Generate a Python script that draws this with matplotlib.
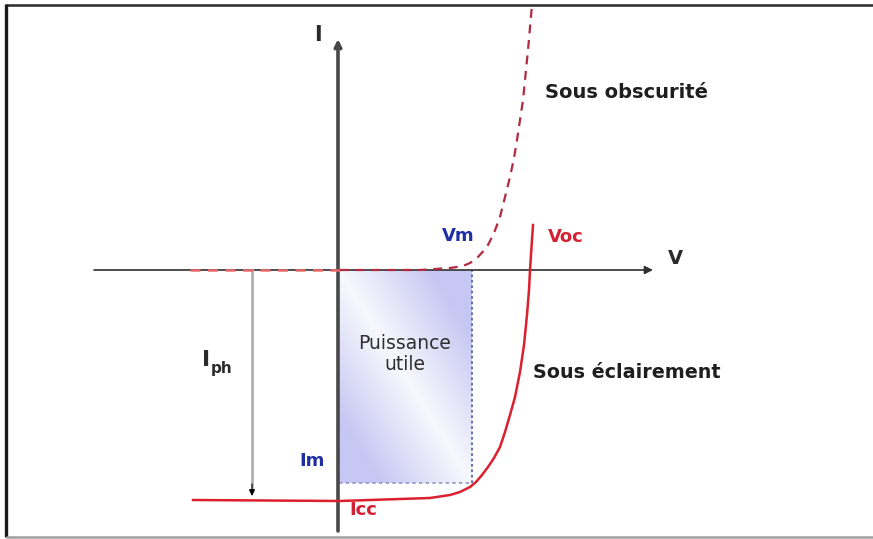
import numpy as np
import matplotlib.pyplot as plt
from matplotlib.colors import to_rgb

plt.rcParams['font.family'] = ['DejaVu Sans']

# caracteristique I(V) d'une cellule PV (unites arbitraires, origine au croisement des axes)
# courbe sous obscurite (pointilles)
v_obsc = [-149, 1, 81, 111, 124, 131, 139, 148, 155, 161, 166, 171, 175, 178, 184, 189, 193]
i_obsc = [0, 0, 0, 2, 4, 7, 13, 23, 37, 53, 73, 93, 112, 130, 170, 220, 265]

# courbe sous eclairement
v_ecl = [-146, 1, 61, 91, 111, 121, 131, 137, 143, 149, 155, 161, 166, 171, 176, 181,
         185, 188, 190, 191, 194]
i_ecl = [-230, -231, -229, -228, -225, -222, -217, -212, -205, -197, -188, -177, -162,
         -145, -127, -102, -75, -45, -20, 0, 45]

# point de puissance maximale
Vm = 133
Im = -213

fig = plt.figure(figsize=(8.73, 5.39), dpi=100)
ax = fig.add_axes([0, 0, 1, 1])
ax.set_xlim(-339, 534)
ax.set_ylim(-269, 270)
ax.axis('off')

# cadre
ax.plot([-333, 534], [265, 265], color='#2a2a2a', lw=1.8, solid_capstyle='butt')
ax.plot([-333, -333], [266, -267], color='#1a1a1a', lw=2.4, solid_capstyle='butt')
ax.plot([-333, 534], [-267, -267], color='#a0a0a0', lw=1.8, solid_capstyle='butt')

# rectangle "puissance utile" avec degrade
ny, nx = 100, 100
u, w = np.meshgrid(np.linspace(0, 1, nx), np.linspace(0, 1, ny))
d = np.clip(np.abs(u - w) * 1.25 + 0.12, 0, 1)
lav = np.array(to_rgb('#c6c7f3'))
img = np.ones((ny, nx, 3)) * (1 - d[..., None]) + lav * d[..., None]
ax.imshow(img, extent=(0, Vm, Im, 0), origin='upper', aspect='auto',
          interpolation='bilinear', zorder=1)
ax.plot([Vm, Vm], [Im, 0], color='#5565a8', lw=1.3, ls=(0, (1.5, 1.5)), zorder=2)
ax.plot([0, Vm], [Im, Im], color='#8c98c4', lw=1.2, ls=(0, (2, 2)), zorder=2)

# axes I et V
ax.annotate('', xy=(-1, 231), xytext=(-1, -261),
            arrowprops=dict(arrowstyle='-|>', color='#484848', lw=2.6,
                            mutation_scale=10, shrinkA=0, shrinkB=0), zorder=3)
ax.annotate('', xy=(314, 0), xytext=(-245, 0),
            arrowprops=dict(arrowstyle='-|>', color='#303030', lw=1.2,
                            mutation_scale=12, shrinkA=0, shrinkB=0), zorder=3)

# courbes
v_o = np.array(v_obsc)
i_o = np.array(i_obsc)
ax.plot(v_o[:2], i_o[:2], color='#ec6a6a', lw=1.8, ls=(0, (4, 3)), zorder=4)
ax.plot(v_o[1:], i_o[1:], color='#b02a40', lw=1.6, ls=(0, (4, 3)), zorder=4)
ax.plot(v_ecl, i_ecl, color='#dc1f2e', lw=1.8, zorder=4)

# fleche Iph
ax.plot([-87, -87], [0, -218], color='#b0b0b0', lw=2, zorder=3)
ax.annotate('', xy=(-87, -226), xytext=(-87, -214),
            arrowprops=dict(arrowstyle='-|>', color='black', lw=0.8,
                            mutation_scale=9, shrinkA=0, shrinkB=0), zorder=4)

# textes
ax.text(-21, 235, 'I', fontsize=15, fontweight='bold', color='#2a2a2a',
        ha='center', va='center')
ax.text(336, 12, 'V', fontsize=14, fontweight='bold', color='#2a2a2a',
        ha='center', va='center')
ax.text(206, 178, 'Sous obscurité', fontsize=14, fontweight='bold',
        color='#1e1e1e', ha='left', va='center')
ax.text(194, -102, 'Sous éclairement', fontsize=13.8, fontweight='bold',
        color='#1e1e1e', ha='left', va='center')
ax.text(66, -84, 'Puissance\nutile', fontsize=13.5, color='#2e2e2e',
        ha='center', va='center', linespacing=1.1, zorder=5)
ax.text(119, 34, 'Vm', fontsize=13, fontweight='bold', color='#1f2ea3',
        ha='center', va='center')
ax.text(209, 33, 'Voc', fontsize=13, fontweight='bold', color='#d42032',
        ha='left', va='center')
ax.text(-27, -191, 'Im', fontsize=13, fontweight='bold', color='#1f2ea3',
        ha='center', va='center')
ax.text(10, -240, 'Icc', fontsize=13, fontweight='bold', color='#d42032',
        ha='left', va='center')
ax.text(-133, -90, 'I', fontsize=16, fontweight='bold', color='#2a2a2a',
        ha='center', va='center')
ax.text(-128, -98, 'ph', fontsize=11, fontweight='bold', color='#2a2a2a',
        ha='left', va='center')

fig.savefig('out.png', dpi=100)
